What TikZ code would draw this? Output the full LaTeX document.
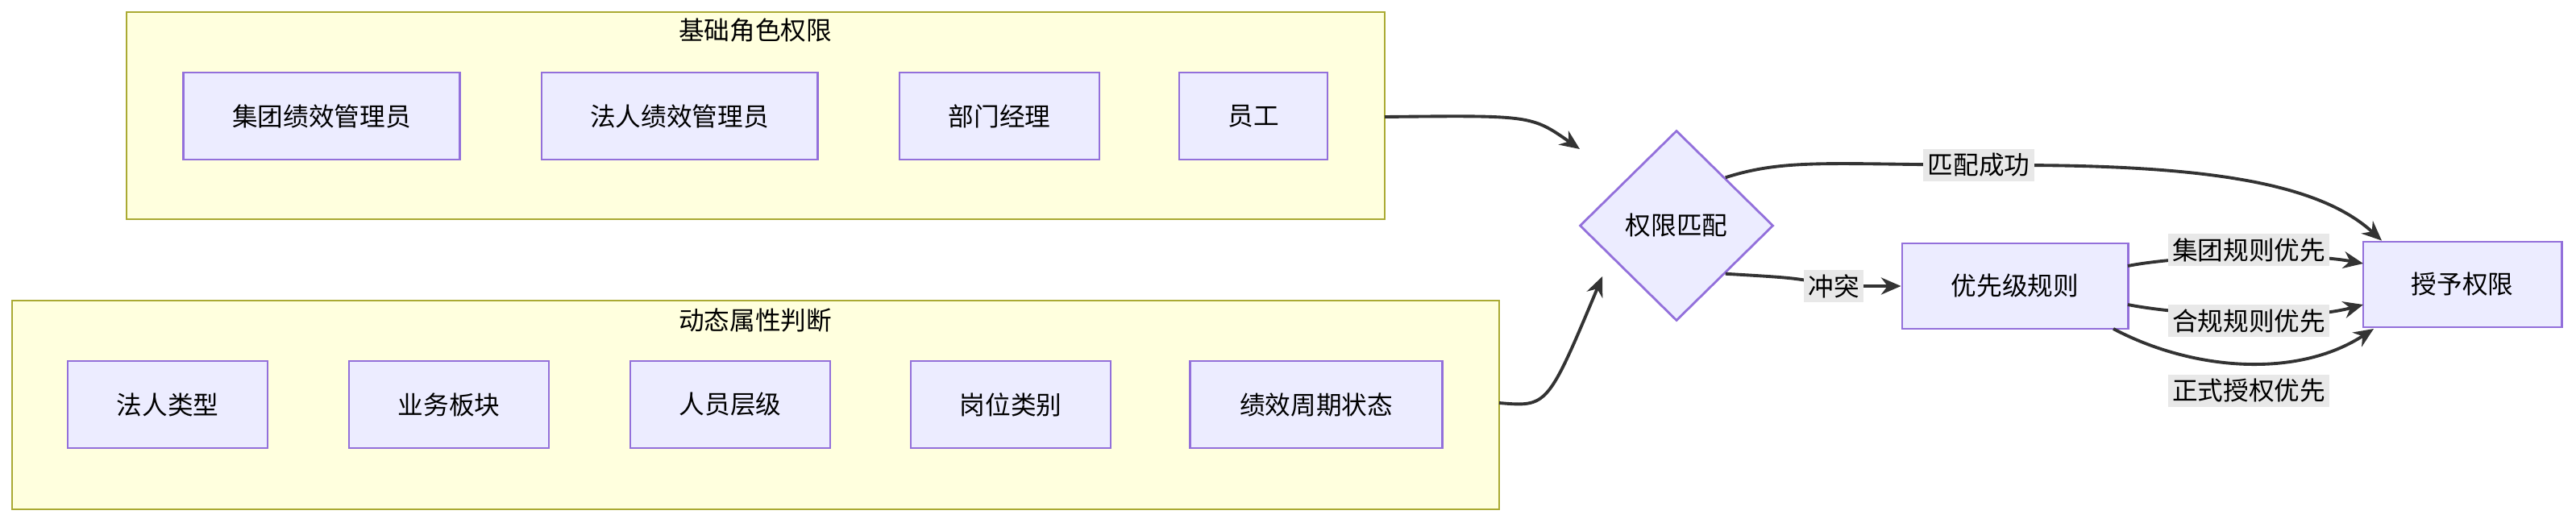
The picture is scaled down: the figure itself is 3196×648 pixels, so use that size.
\documentclass[tikz,border=0pt]{standalone}
\usepackage{fontspec}
\setmainfont{Noto Sans CJK SC}
\usetikzlibrary{calc,shapes.geometric,arrows.meta}
\definecolor{nodefill}{HTML}{ECECFF}
\definecolor{nodeline}{HTML}{9370DB}
\definecolor{groupfill}{HTML}{FFFFDE}
\definecolor{groupline}{HTML}{AAAA33}
\definecolor{edgecol}{HTML}{333333}
\definecolor{labelbg}{HTML}{E8E8E8}
\tikzset{
  box/.style={draw=nodeline,fill=nodefill,line width=0.8pt,inner sep=0pt},
  group/.style={draw=groupline,fill=groupfill,line width=0.8pt},
  edge/.style={draw=edgecol,line width=1.1pt,-{Stealth[length=7pt,width=6pt]}},
  elabel/.style={fill=labelbg,inner sep=1.5pt},
}
\begin{document}
\begin{tikzpicture}[x=0.01cm,y=-0.01cm,font=\fontsize{9}{11}\selectfont]
            \useasboundingbox (0,0) rectangle (3196,648);
            % groups
            \draw[group] (157,15) rectangle (1718,272);
            \node (roletitle) at (937,38) {基础角色权限};
            \draw[group] (15,373) rectangle (1860,632);
            \node (attrtitle) at (937,397) {动态属性判断};
            % role nodes
            \node[box,minimum width=3.42cm,minimum height=1.08cm] (jtadmin) at (399,144) {集团绩效管理员};
            \node[box,minimum width=3.42cm,minimum height=1.08cm] (fradmin) at (843,144) {法人绩效管理员};
            \node[box,minimum width=2.48cm,minimum height=1.08cm] (manager) at (1240,144) {部门经理};
            \node[box,minimum width=1.84cm,minimum height=1.08cm] (staff) at (1555,144) {员工};
            % attribute nodes
            \node[box,minimum width=2.48cm,minimum height=1.08cm] (lptype) at (208,502) {法人类型};
            \node[box,minimum width=2.48cm,minimum height=1.08cm] (biz) at (557,502) {业务板块};
            \node[box,minimum width=2.48cm,minimum height=1.08cm] (level) at (906,502) {人员层级};
            \node[box,minimum width=2.48cm,minimum height=1.08cm] (post) at (1254,502) {岗位类别};
            \node[box,minimum width=3.13cm,minimum height=1.08cm] (cycle) at (1633,502) {绩效周期状态};
            % decision and results
            \node[box,diamond,minimum width=2.4cm,minimum height=2.36cm] (match) at (2080,280) {权限匹配};
            \node[box,minimum width=2.8cm,minimum height=1.06cm] (priority) at (2500,355) {优先级规则};
            \node[box,minimum width=2.46cm,minimum height=1.06cm] (grant) at (3055,353) {授予权限};
            % free ends of group arrows
            \coordinate (roleout) at (1718,145);
            \coordinate (rolein) at (1960,185);
            \coordinate (attrout) at (1860,500);
            \coordinate (attrin) at (1988,343);
            % edges
            \draw[edge] (roleout) .. controls (1900,143) .. (rolein);
            \draw[edge] (attrout) .. controls (1920,505) .. (attrin);
            \draw[edge] (match.north east) .. controls (2220,195) and (2280,205) .. (2500,205)
                .. controls (2750,205) and (2880,230) .. (grant.north west -| 2955,300);
            \node[elabel] at (2455,205) {匹配成功};
            \draw[edge] (match.south east) .. controls (2230,345) .. (2275,355) -- (priority.west);
            \node[elabel] at (2275,355) {冲突};
            \draw[edge] (2640,330) .. controls (2700,318) and (2850,312) .. (2932,327);
            \node[elabel] at (2790,310) {集团规则优先};
            \draw[edge] (2640,378) .. controls (2700,390) and (2850,400) .. (2932,378);
            \node[elabel] at (2790,398) {合规规则优先};
            \draw[edge] (2622,408) .. controls (2720,460) and (2850,470) .. (2945,408);
            \node[elabel] at (2790,485) {正式授权优先};
        \end{tikzpicture}
\end{document}
